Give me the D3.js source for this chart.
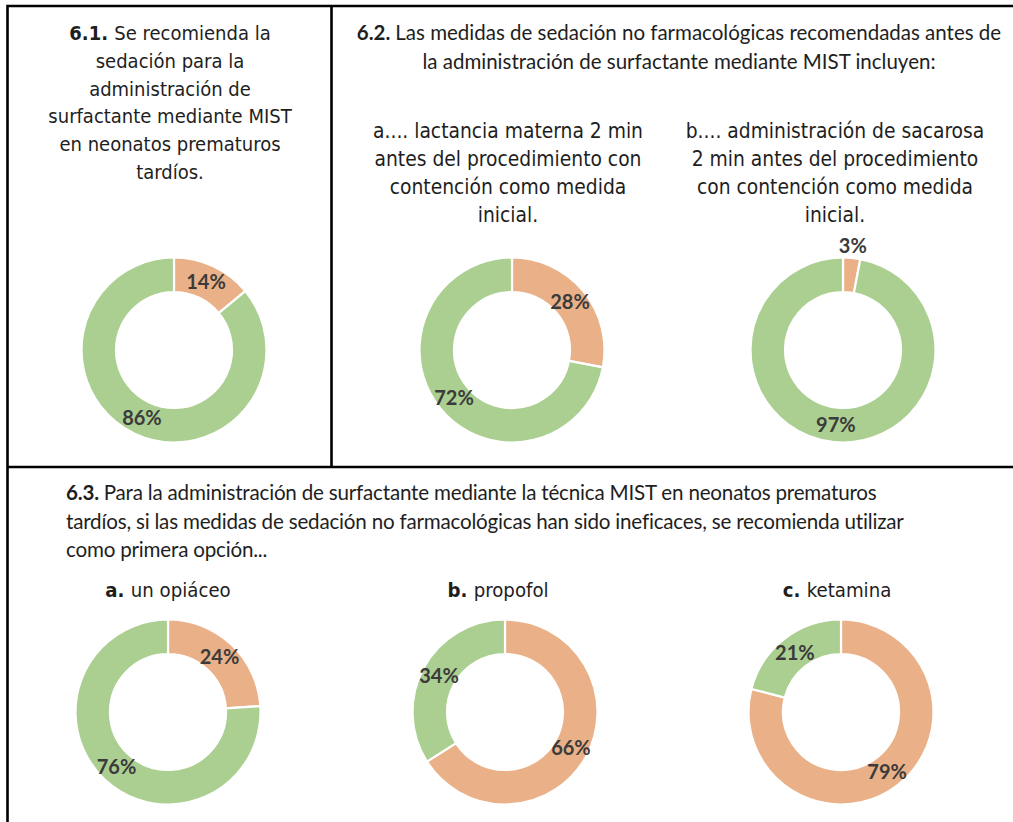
<!DOCTYPE html>
<html><head><meta charset="utf-8">
<script src="https://cdn.jsdelivr.net/npm/d3@7"></script>
<style>
html,body{margin:0;padding:0;background:#fff;}
svg{display:block;}
</style></head>
<body>
<svg id="chart" width="1013" height="822"></svg>
<script>
// ---- data ----
const chartIds = ["6.1", "6.2a", "6.2b", "6.3a", "6.3b", "6.3c"];
const orangeValues = [14, 28, 3, 24, 66, 79];
const greenValues  = [86, 72, 97, 76, 34, 21];
const seriesNames = ["naranja", "verde"];

const title61 = ["Se recomienda la", "sedación para la", "administración de", "surfactante mediante MIST", "en neonatos prematuros", "tardíos."];
const title62 = ["Las medidas de sedación no farmacológicas recomendadas antes de", "la administración de surfactante mediante MIST incluyen:"];
const sub62a = ["a.... lactancia materna 2 min", "antes del procedimiento con", "contención como medida", "inicial."];
const sub62b = ["b.... administración de sacarosa", "2 min antes del procedimiento", "con contención como medida", "inicial."];
const title63 = ["Para la administración de surfactante mediante la técnica MIST en neonatos prematuros", "tardíos, si las medidas de sedación no farmacológicas han sido ineficaces, se recomienda utilizar", "como primera opción..."];
const sub63Letters = ["a.", "b.", "c."];
const sub63Names = ["un opiáceo", "propofol", "ketamina"];

// ---- layout ----
const svg = d3.select("#chart");
const colors = d3.scaleOrdinal().domain(seriesNames).range(["#EAB189", "#ABCF91"]);
const textFont = "'DejaVu Sans Condensed', 'DejaVu Sans', sans-serif";
const condFont = "Lato, sans-serif";
const ink = "#1e1e1e";

// borders
const border = svg.append("g").attr("stroke", "#000").attr("stroke-width", 2.6).attr("fill", "none");
border.append("path").attr("d", "M7.5,830 V6 H1013");
border.append("line").attr("x1", 331.5).attr("y1", 6).attr("x2", 331.5).attr("y2", 467);
border.append("line").attr("x1", 7.5).attr("y1", 467).attr("x2", 1013).attr("y2", 467);

function lines(arr, x, y0, lh, opts) {
  const g = svg.append("text")
    .attr("font-family", opts.font)
    .attr("font-size", opts.size)
    .attr("fill", ink)
    .attr("text-anchor", opts.anchor || "middle")
    .attr("letter-spacing", opts.ls || 0);
  arr.forEach((s, i) => {
    const t = g.append("tspan").attr("x", x).attr("y", y0 + i * lh);
    if (i === 0 && opts.bold) {
      t.append("tspan").attr("font-weight", "bold").text(opts.bold + " ");
    }
    t.append("tspan").text(s);
  });
  return g;
}

// 6.1 title
lines(title61, 170, 40, 27.8, {font: textFont, size: 20, bold: "6.1."});
// 6.2 title
lines(title62, 679, 40, 28.5, {font: condFont, size: 20.5, bold: "6.2."});
lines(sub62a, 508, 138, 28, {font: textFont, size: 20.8});
lines(sub62b, 835, 138, 28, {font: textFont, size: 20.8});
// 6.3 title
lines(title63, 66, 500, 28.5, {font: condFont, size: 20.6, anchor: "start", bold: "6.3.", ls: -0.2});

const subX = [168, 498, 837];
sub63Letters.forEach((l, i) => {
  const t = svg.append("text").attr("x", subX[i]).attr("y", 597)
    .attr("font-family", textFont).attr("font-size", 20.2).attr("fill", ink)
    .attr("text-anchor", "middle");
  t.append("tspan").attr("font-weight", "bold").text(l + " ");
  t.append("tspan").text(sub63Names[i]);
});

// donuts
const centers = [[174, 350], [512, 350], [843, 350], [168, 712], [505, 712], [841, 712]];
const R = 92.5, r0 = 58;
const pie = d3.pie().sort(null).value(d => d.v);
const arc = d3.arc().innerRadius(r0).outerRadius(R);
const labelArc = d3.arc().innerRadius((R + r0) / 2).outerRadius((R + r0) / 2);

chartIds.forEach((id, i) => {
  const data = [{k: seriesNames[0], v: orangeValues[i]}, {k: seriesNames[1], v: greenValues[i]}];
  const g = svg.append("g").attr("transform", `translate(${centers[i][0]},${centers[i][1]})`);
  const arcs = pie(data);
  g.selectAll("path").data(arcs).join("path")
    .attr("d", arc)
    .attr("fill", d => colors(d.data.k))
    .attr("stroke", "#fff").attr("stroke-width", 2.2);
  g.selectAll("text").data(arcs).join("text")
    .attr("transform", d => {
      if (d.data.v < 5) {
        const a = (d.startAngle + d.endAngle) / 2;
        return `translate(${Math.sin(a) * (R + 12)},${-Math.cos(a) * (R + 12)})`;
      }
      return `translate(${labelArc.centroid(d)})`;
    })
    .attr("text-anchor", "middle").attr("dy", "0.36em")
    .attr("font-family", condFont).attr("font-weight", "bold")
    .attr("font-size", 20).attr("fill", "#3b3b3b")
    .text(d => d.data.v + "%");
});
</script>
</body></html>
